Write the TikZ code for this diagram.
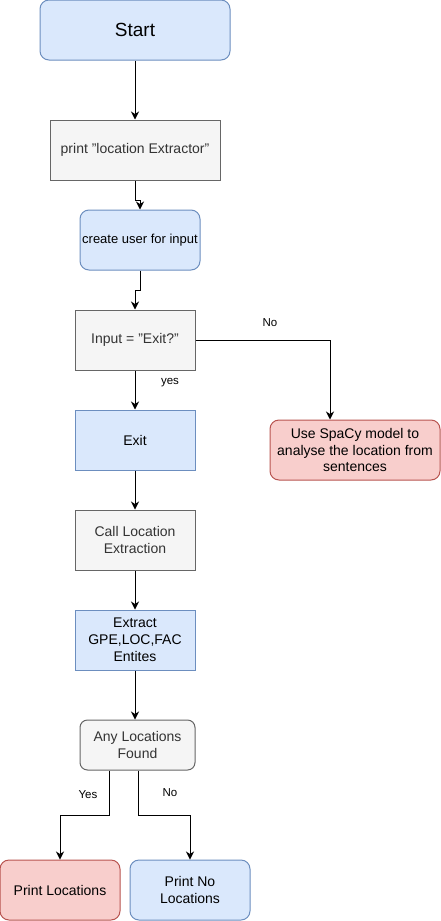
\documentclass[tikz,border=0pt]{standalone}
\usepackage{fontspec}
\setmainfont{Liberation Sans}
\usetikzlibrary{arrows.meta,calc}
\definecolor{bluefill}{HTML}{DAE8FC}
\definecolor{bluedraw}{HTML}{6C8EBF}
\definecolor{grayfill}{HTML}{F5F5F5}
\definecolor{graydraw}{HTML}{666666}
\definecolor{graytext}{HTML}{333333}
\definecolor{redfill}{HTML}{F8CECC}
\definecolor{reddraw}{HTML}{B85450}
\tikzset{
  box/.style={draw, line width=1pt, inner sep=2pt, align=center, minimum width=120pt, minimum height=60pt, font=\fontsize{14}{16.8}\selectfont},
  bluebox/.style={fill=bluefill, draw=bluedraw},
  graybox/.style={fill=grayfill, draw=graydraw, text=graytext},
  redbox/.style={fill=redfill, draw=reddraw},
  arr/.style={line width=1pt, -{Stealth[length=8pt,width=8pt,inset=2.5pt]}},
  lbl/.style={font=\fontsize{11.5}{14}\selectfont, inner sep=0pt}
}
\begin{document}
\begin{tikzpicture}[x=1pt,y=-1pt]
\useasboundingbox (0,0) rectangle (441,921);
\node[box, bluebox, rounded corners=9pt, minimum width=190pt, font=\fontsize{19}{22}\selectfont] (start) at (135,30) {Start};
\node[box, graybox, minimum width=170pt] (print) at (135,150) {print "location Extractor"};
\node[box, bluebox, rounded corners=9pt, font=\fontsize{13}{15.6}\selectfont] (create) at (140,240) {create user for input};
\node[box, graybox] (input) at (135,340) {Input = "Exit?"};
\node[box, bluebox] (exit) at (135,440) {Exit};
\node[box, redbox, rounded corners=9pt, minimum width=170pt] (spacy) at (355,450) {Use SpaCy model to\\analyse the location from\\sentences};
\node[box, graybox] (call) at (135,540) {Call Location\\Extraction};
\node[box, bluebox] (extract) at (135,640) {Extract\\GPE,LOC,FAC\\Entites};
\node[box, graybox, rounded corners=7.5pt, minimum width=115pt, minimum height=50pt] (any) at (137.5,745) {Any Locations\\Found};
\node[box, redbox, rounded corners=9pt] (ploc) at (60,890) {Print Locations};
\node[box, bluebox, rounded corners=9pt] (pno) at (190,890) {Print No\\Locations};

\draw[arr] (start.south) -- (print.north);
\draw[arr] (print.south) -- ++(0,20) -| (create.north);
\draw[arr] (create.south) -- ++(0,20) -| (input.north);
\draw[arr] (input.south) -- (exit.north);
\draw[arr] (input.east) -| ([xshift=-25pt]spacy.north);
\draw[arr] (exit.south) -- (call.north);
\draw[arr] (call.south) -- (extract.north);
\draw[arr] (extract.south) -- (extract.south |- any.north);
\draw[arr] ([xshift=-28.5pt]any.south) -- ++(0,45) -| (ploc.north);
\draw[arr] ([xshift=0.5pt]any.south) -- ++(0,45) -| (pno.north);

\node[lbl] (lno) at (270,323) {No};
\node[lbl] (lyes) at (170,383) {yes};
\node[lbl] (lyes2) at (88,795) {Yes};
\node[lbl] (lno2) at (170,793) {No};
\end{tikzpicture}
\end{document}
